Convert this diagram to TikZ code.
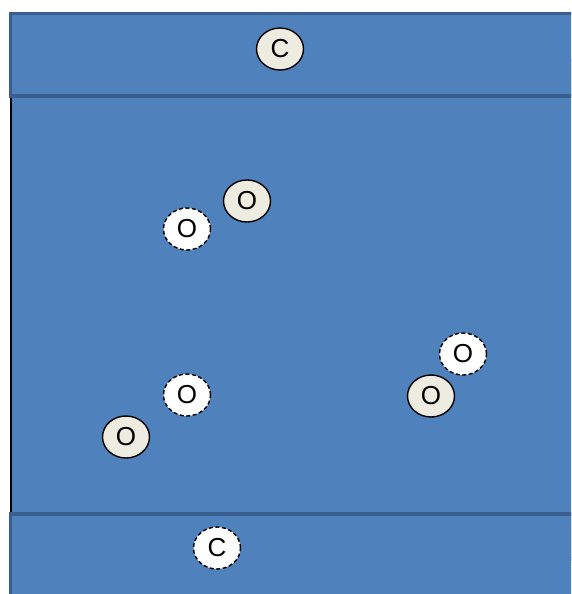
\documentclass[tikz,border=0pt]{standalone}
\usepackage{fontspec}
\setmainfont{Liberation Sans}
\definecolor{bandblue}{HTML}{4F81BD}
\definecolor{banddark}{HTML}{3A5F8E}
\definecolor{beige}{HTML}{EEECE1}
\usetikzlibrary{shapes.geometric}

\begin{document}
\begin{tikzpicture}[
    x=1pt, y=-1pt,
    band/.style={fill=bandblue, draw=banddark, line width=3.5pt},
    mol/.style={ellipse, minimum width=47pt, minimum height=42pt, inner sep=0pt,
      draw=black, line width=1.4pt, font=\fontsize{26}{26}\selectfont},
    bound/.style={mol, fill=beige},
    free/.style={mol, fill=white, dash pattern=on 4pt off 2.5pt}
  ]
    \useasboundingbox (0,0) rectangle (571,594);
    \clip (0,0) rectangle (571,594);

    % Middle region
    \draw[fill=bandblue, draw=black, line width=2pt] (11,60) rectangle (600,560);

    % Top and bottom bands
    \draw[band] (10.5,13.5) rectangle (600,96);
    \draw[band] (10.5,514) rectangle (600,640);

    % Bound molecules
    \node[bound] (c1) at (280,49) {C};
    \node[bound] (o1) at (247,201) {O};
    \node[bound] (o2) at (126,437) {O};
    \node[bound] (o3) at (431,396) {O};

    % Free molecules
    \node[free] (f1) at (187,229) {O};
    \node[free] (f2) at (187,395) {O};
    \node[free] (f3) at (463,354) {O};
    \node[free] (c2) at (217,548) {C};
  \end{tikzpicture}
\end{document}
